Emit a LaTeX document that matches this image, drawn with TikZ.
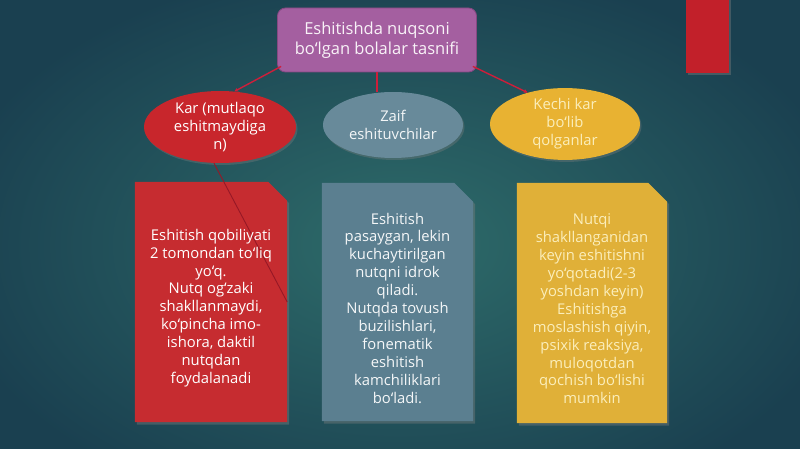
\documentclass[tikz,border=0pt]{standalone}
\usepackage{fontspec}
\setmainfont{Open Sans}
\usetikzlibrary{calc,arrows.meta,shadows,shapes.geometric}
\definecolor{bgin}{RGB}{46,108,106}
\definecolor{bgout}{RGB}{26,64,80}
\definecolor{purp}{RGB}{164,95,160}
\definecolor{purpd}{RGB}{134,72,130}
\definecolor{redc}{RGB}{200,38,44}
\definecolor{redbox}{RGB}{198,44,48}
\definecolor{greyc}{RGB}{104,138,154}
\definecolor{greybox}{RGB}{91,127,144}
\definecolor{goldc}{RGB}{232,178,50}
\definecolor{goldbox}{RGB}{224,176,56}
\definecolor{goldtxt}{RGB}{251,238,187}
\definecolor{redrect}{RGB}{194,32,42}
\definecolor{linered}{RGB}{206,30,58}
\definecolor{karline}{RGB}{150,24,38}
\definecolor{vline}{RGB}{190,205,208}
\tikzset{
  topbox/.style={rectangle, rounded corners=8pt, fill=purp, draw=purpd, line width=0.8pt,
    minimum width=199pt, minimum height=64pt, inner sep=0pt, align=center,
    text=white!92!purp, font=\fontsize{16.5}{19.5}\selectfont},
  ellnode/.style={ellipse, inner sep=0pt, align=center, font=\fontsize{14.8}{18}\selectfont,
    drop shadow={shadow xshift=1.5pt, shadow yshift=-2pt, opacity=0.35}},
  boxarea/.style={rectangle, inner sep=0pt},
  boxtext/.style={align=center, inner sep=0pt, font=\fontsize{14.8}{17.9}\selectfont},
  conn/.style={linered, line width=1.4pt, -{Stealth[length=4pt,width=4pt]}},
  vconn/.style={vline, line width=0.8pt},
  snipshadow/.style={drop shadow={shadow xshift=2pt, shadow yshift=-2.5pt, opacity=0.4}}
}
\begin{document}
\begin{tikzpicture}[x=1pt,y=-1pt]
\useasboundingbox (0,0) rectangle (800,449);
\shade[inner color=bgin, outer color=bgout] (-60,-40) rectangle (860,529);
% top-right red bar
\fill[redrect, drop shadow={shadow xshift=2pt, shadow yshift=-2pt, opacity=0.4}] (686,-2) rectangle (729,73);

% box areas
\node[boxarea, minimum width=152pt, minimum height=240pt] (b1) at (211,302) {};
\node[boxarea, minimum width=151pt, minimum height=238pt] (b2) at (397.5,302) {};
\node[boxarea, minimum width=150pt, minimum height=240pt] (b3) at (592,303) {};

% snipped boxes
\fill[redbox, snipshadow] (b1.south west) |- ($(b1.north east)+(-19,0)$) -- ($(b1.north east)+(0,19)$) |- cycle;
\fill[greybox, snipshadow] (b2.south west) |- ($(b2.north east)+(-19,0)$) -- ($(b2.north east)+(0,19)$) |- cycle;
\fill[goldbox, snipshadow] (b3.south west) |- ($(b3.north east)+(-19,0)$) -- ($(b3.north east)+(0,19)$) |- cycle;

% top box and ellipses
\node[topbox] (top) at (377,40) {Eshitishda nuqsoni\\bo`lgan bolalar tasnifi};
\node[ellnode, fill=redc, text=white, minimum width=152pt, minimum height=72pt] (kar) at (220,127) {Kar (mutlaqo\\eshitmaydiga\\n)};
\node[ellnode, fill=greyc, text=white!92!greyc, minimum width=140pt, minimum height=66pt] (zaif) at (393,125) {Zaif\\eshituvchilar};
\node[ellnode, fill=goldc, text=goldtxt, minimum width=150pt, minimum height=68pt] (kechi) at (565,124) {Kechi kar\\bo`lib\\qolganlar};

% connectors
\draw[conn] ($(top.south west)+(4,-6)$) -- (kar.68);
\draw[conn] ($(top.south east)+(-4,-6)$) -- (kechi.140);
\draw[linered, line width=1.4pt] (top.south) -- (top.south |- zaif.north);
\draw[vconn] ($(zaif.south)+(4,0)$) -- ($(zaif.south)+(4,0)$ |- b2.north);
\draw[vconn] ($(kechi.south)+(10,0)$) -- ($(kechi.south)+(10,0)$ |- b3.north);
\draw[karline, line width=0.9pt] ($(kar.south)+(-6,0)$) -- (b1.east);

% box texts
\node[boxtext, text=white] (t1) at ($(b1.center)+(0,6)$) {Eshitish qobiliyati\\2 tomondan to`liq\\yo`q.\\Nutq og`zaki\\shakllanmaydi,\\ko`pincha imo-\\ishora, daktil\\nutqdan\\foydalanadi};
\node[boxtext, text=white!94!greybox] (t2) at ($(b2.center)+(0,6)$) {Eshitish\\pasaygan, lekin\\kuchaytirilgan\\nutqni idrok\\qiladi.\\Nutqda tovush\\buzilishlari,\\fonematik\\eshitish\\kamchiliklari\\bo`ladi.};
\node[boxtext, text=goldtxt] (t3) at ($(b3.center)+(0,6)$) {Nutqi\\shakllanganidan\\keyin eshitishni\\yo`qotadi(2-3\\yoshdan keyin)\\Eshitishga\\moslashish qiyin,\\psixik reaksiya,\\muloqotdan\\qochish bo`lishi\\mumkin};
\end{tikzpicture}
\end{document}
